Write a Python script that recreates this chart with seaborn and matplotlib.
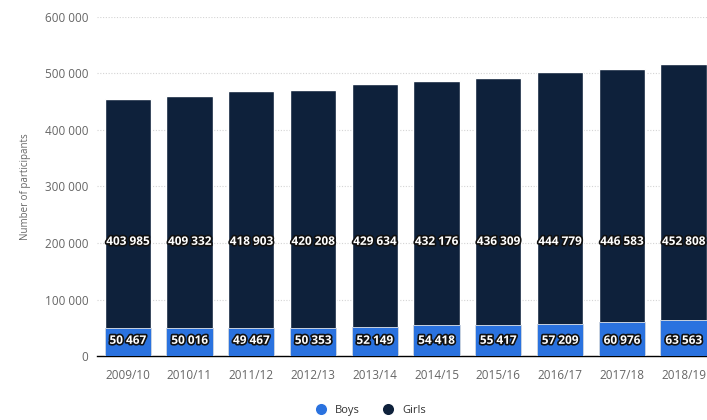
import matplotlib
matplotlib.use("Agg")
import matplotlib.pyplot as plt
import matplotlib.patheffects as pe
from matplotlib.lines import Line2D
import seaborn as sns
import pandas as pd
import numpy as np

seasons = ["2009/10", "2010/11", "2011/12", "2012/13", "2013/14",
           "2014/15", "2015/16", "2016/17", "2017/18", "2018/19"]
boys = [50467, 50016, 49467, 50353, 52149, 54418, 55417, 57209, 60976, 63563]
girls = [403985, 409332, 418903, 420208, 429634, 432176, 436309, 444779, 446583, 452808]

BOYS_C = "#2a72df"
GIRLS_C = "#0e213b"

df = pd.DataFrame({"season": seasons, "boys": boys, "girls": girls})
df["total"] = df["boys"] + df["girls"]

sns.set_style("white")
plt.rcParams["font.family"] = ["Open Sans", "DejaVu Sans"]

fig = plt.figure(figsize=(7.07, 4.2), dpi=100)
ax = fig.add_axes([0.137, 0.152, 0.863, 0.808])

sns.barplot(data=df, x="season", y="total", color=GIRLS_C, width=0.75,
            saturation=1, ax=ax, zorder=3)
sns.barplot(data=df, x="season", y="boys", color=BOYS_C, width=0.75,
            saturation=1, ax=ax, zorder=4, edgecolor="#c8d2e0", linewidth=0.7)

ax.set_ylim(0, 600000)
ax.set_xlim(-0.5, 9.38)
yt = np.arange(0, 600001, 100000)
ax.set_yticks(yt)
ax.set_yticklabels([f"{int(v):,}".replace(",", " ") for v in yt])
for v in yt[1:]:
    ax.axhline(v, color="#d4d4d4", linestyle=(0, (1, 1.5)), linewidth=0.8, zorder=1)

for s in ["top", "right", "left"]:
    ax.spines[s].set_visible(False)
ax.spines["bottom"].set_color("black")
ax.spines["bottom"].set_linewidth(1.0)
ax.tick_params(axis="both", length=0, labelsize=8.5, colors="#666666", pad=6)
ax.tick_params(axis="x", pad=9)
ax.set_xlabel("")
ax.set_ylabel("Number of participants", fontsize=7, color="#666666", labelpad=10)

fx = [pe.withStroke(linewidth=2.4, foreground="#111111")]
for i, (b, g) in enumerate(zip(boys, girls)):
    ax.text(i, 28000, f"{b:,}".replace(",", " "), ha="center", va="center",
            color="white", fontsize=8.5, fontweight="bold", path_effects=fx, zorder=6)
    ax.text(i, 203000, f"{g:,}".replace(",", " "), ha="center", va="center",
            color="white", fontsize=8.5, fontweight="bold", path_effects=fx, zorder=6)

handles = [Line2D([0], [0], marker="o", color="w", markerfacecolor=BOYS_C,
                  markersize=9, label="Boys"),
           Line2D([0], [0], marker="o", color="w", markerfacecolor=GIRLS_C,
                  markersize=9, label="Girls")]
fig.legend(handles=handles, loc="center", bbox_to_anchor=(0.52, 0.022), ncol=2,
           frameon=False, fontsize=8, handletextpad=0.3, columnspacing=1.5,
           labelcolor="#333333")

fig.savefig("out.png", dpi=100)
